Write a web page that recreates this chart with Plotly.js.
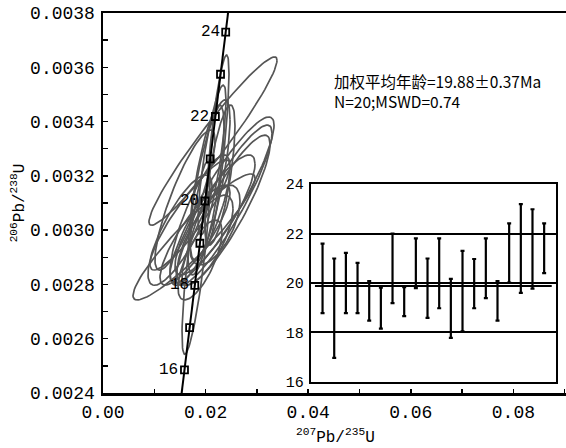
<!DOCTYPE html>
<html>
<head>
<meta charset="utf-8">
<script src="https://cdn.plot.ly/plotly-3.0.1.min.js"></script>
<style>html,body{margin:0;padding:0;background:#fff;}#chart{width:566px;height:448px;}</style>
</head>
<body>
<div id="chart"></div>
<script>
// ---- Concordia curve (207Pb/235U vs 206Pb/238U), ages in Ma ----
const concAges = [16, 17, 18, 19, 20, 21, 22, 23, 24];
const concX = [0.0158824, 0.0168834, 0.0178854, 0.0188883, 0.0198923, 0.0208972, 0.0219031, 0.0229100, 0.0239179];
const concY = [0.0024851, 0.0026406, 0.0027962, 0.0029517, 0.0031073, 0.0032629, 0.0034186, 0.0035743, 0.0037299];
const curveX = [0.0152823, 0.0158824, 0.0168834, 0.0178854, 0.0188883, 0.0198923, 0.0208972, 0.0219031, 0.0229100, 0.0239179, 0.0244223];
const curveY = [0.0023918, 0.0024851, 0.0026406, 0.0027962, 0.0029517, 0.0031073, 0.0032629, 0.0034186, 0.0035743, 0.0037299, 0.0038078];
const labelledAges = [16, 18, 20, 22, 24];

// ---- Error ellipses of the 20 analyses ----
const ellCx  = [0.02144, 0.02222, 0.01813, 0.01774, 0.02320, 0.02359, 0.02398, 0.02183, 0.02086, 0.02008, 0.01891, 0.01793, 0.01988, 0.01598, 0.01501, 0.02183, 0.01891, 0.02281, 0.01696, 0.02125];
const ellCy  = [0.003328, 0.003295, 0.002897, 0.002975, 0.003111, 0.003092, 0.003074, 0.003056, 0.003185, 0.003148, 0.003037, 0.002982, 0.002963, 0.003111, 0.003000, 0.003019, 0.002890, 0.003203, 0.003056, 0.003258];
const ellSx  = [0.01248, 0.00234, 0.00273, 0.01189, 0.01014, 0.00936, 0.00858, 0.00780, 0.00390, 0.00351, 0.00585, 0.00682, 0.00546, 0.00585, 0.00624, 0.00487, 0.00429, 0.00292, 0.00780, 0.00273];
const ellSy  = [0.000310, 0.000350, 0.000354, 0.000232, 0.000306, 0.000295, 0.000276, 0.000221, 0.000295, 0.000313, 0.000240, 0.000184, 0.000166, 0.000258, 0.000203, 0.000147, 0.000147, 0.000258, 0.000203, 0.000276];
const ellRho = [0.96, 0.80, 0.80, 0.93, 0.90, 0.90, 0.88, 0.85, 0.75, 0.75, 0.80, 0.85, 0.70, 0.85, 0.80, 0.60, 0.70, 0.70, 0.90, 0.80];

// ---- Weighted mean inset: 206Pb/238U ages (Ma), error bar top / bottom ----
const spotNo   = [1,2,3,4,5,6,7,8,9,10,11,12,13,14,15,16,17,18,19,20];
const ageTop   = [21.59, 20.99, 21.22, 20.81, 20.08, 19.81, 22.00, 19.83, 21.80, 20.99, 21.80, 20.17, 21.30, 20.97, 21.80, 20.08, 22.41, 23.19, 22.98, 22.41];
const ageBot   = [18.78, 16.97, 18.78, 18.78, 18.48, 18.16, 19.19, 18.66, 19.79, 18.59, 18.98, 17.78, 18.05, 18.98, 19.39, 18.48, 20.02, 19.60, 19.77, 20.40];
const meanAge  = 19.88;
const insetTicks = [16, 18, 20, 22, 24];
const line1 = '加权平均年龄=19.88±0.37Ma';
const line2 = 'N=20;MSWD=0.74';
const xTitle = '<sup>207</sup>Pb/<sup>235</sup>U';
const yTitle = '<sup>206</sup>Pb/<sup>238</sup>U';

const MONO = 'Liberation Mono, DejaVu Sans Mono, monospace';
const traces = [];

// ellipses
for (let i = 0; i < ellCx.length; i++) {
  const xs = [], ys = [];
  const s = Math.sqrt(1 - ellRho[i] * ellRho[i]);
  for (let k = 0; k <= 90; k++) {
    const t = 2 * Math.PI * k / 90;
    xs.push(ellCx[i] + ellSx[i] * Math.cos(t));
    ys.push(ellCy[i] + ellSy[i] * (ellRho[i] * Math.cos(t) + s * Math.sin(t)));
  }
  traces.push({x: xs, y: ys, type: 'scatter', mode: 'lines', line: {color: '#555555', width: 1.7}, hoverinfo: 'skip', showlegend: false, xaxis: 'x', yaxis: 'y'});
}

// concordia line
traces.push({x: curveX, y: curveY, type: 'scatter', mode: 'lines', line: {color: '#000', width: 2}, showlegend: false, hoverinfo: 'skip'});
// concordia age markers
traces.push({x: concX, y: concY, type: 'scatter', mode: 'markers', marker: {symbol: 'square-open', size: 7, color: '#000', line: {width: 1.8, color: '#000'}}, showlegend: false, text: concAges.map(String)});

// inset error bars
const mid = ageTop.map((t, i) => (t + ageBot[i]) / 2);
traces.push({
  x: spotNo, y: mid, type: 'scatter', mode: 'markers', xaxis: 'x2', yaxis: 'y2', showlegend: false,
  marker: {size: 1, color: 'rgba(0,0,0,0)'},
  error_y: {type: 'data', symmetric: false, array: ageTop.map((t, i) => t - mid[i]), arrayminus: mid.map((m, i) => m - ageBot[i]), color: '#000', thickness: 2.2, width: 2}
});

const annotations = labelledAges.map(a => {
  const i = concAges.indexOf(a);
  return {x: concX[i], y: concY[i], xref: 'x', yref: 'y', text: String(a), showarrow: false, xanchor: 'right', yanchor: 'middle', xshift: -4, font: {family: MONO, size: 16, color: '#000'}};
});
annotations.push({x: 0.4946, y: 0.796, xref: 'paper', yref: 'paper', xanchor: 'left', yanchor: 'middle', align: 'left', showarrow: false,
  text: line1 + '<br>' + line2, font: {family: 'Noto Sans CJK SC', size: 15.5, color: '#000'}});
// x-axis title
annotations.push({x: 0.503, y: -0.114, xref: 'paper', yref: 'paper', xanchor: 'center', yanchor: 'middle', showarrow: false,
  text: xTitle, font: {family: MONO, size: 16, color: '#000'}});

const layout = {
  width: 566, height: 448,
  margin: {l: 103, r: 0, t: 13, b: 55},
  paper_bgcolor: '#fff', plot_bgcolor: '#fff',
  showlegend: false,
  xaxis: {
    range: [0, 0.09025], dtick: 0.02, tick0: 0, tickformat: '.2f',
    ticks: 'inside', ticklen: 4, tickwidth: 1.5, tickcolor: '#000',
    minor: {dtick: 0.01, ticks: 'inside', ticklen: 4, tickwidth: 1.5, tickcolor: '#000'},
    showline: true, linewidth: 2.5, linecolor: '#000', mirror: true,
    showgrid: false, zeroline: false,
    tickfont: {family: MONO, size: 18, color: '#000'},
    ticklabelstandoff: 1
  },
  yaxis: {
    range: [0.0024, 0.0038], dtick: 0.0002, tick0: 0.0024, tickformat: '.4f',
    ticks: 'inside', ticklen: 5, tickwidth: 1.5, tickcolor: '#000',
    minor: {dtick: 0.0001, ticks: 'inside', ticklen: 5, tickwidth: 1.5, tickcolor: '#000'},
    showline: true, linewidth: 2.5, linecolor: '#000', mirror: false,
    showgrid: false, zeroline: false,
    tickfont: {family: MONO, size: 18, color: '#000'},
    ticklabelstandoff: 2,
    title: {text: yTitle, font: {family: MONO, size: 16, color: '#000'}, standoff: 2}
  },
  xaxis2: {
    domain: [0.449, 0.978], anchor: 'y2', range: [0, 21],
    showticklabels: false, ticks: '', showgrid: false, zeroline: false,
    showline: true, linewidth: 2, linecolor: '#000', mirror: true
  },
  yaxis2: {
    domain: [0.029, 0.55], anchor: 'x2', range: [16, 24], tickvals: insetTicks,
    ticks: '', showgrid: true, gridcolor: '#000', gridwidth: 2, zeroline: false,
    showline: true, linewidth: 2, linecolor: '#000', mirror: true,
    tickfont: {family: MONO, size: 15, color: '#000'}, ticklabelstandoff: 2
  },
  shapes: [
    {type: 'line', xref: 'x2', yref: 'y2', x0: 0.35, x1: 20.65, y0: meanAge, y1: meanAge, line: {color: '#000', width: 2}}
  ],
  annotations: annotations
};

Plotly.newPlot('chart', traces, layout, {displayModeBar: false, staticPlot: true});
</script>
</body>
</html>
